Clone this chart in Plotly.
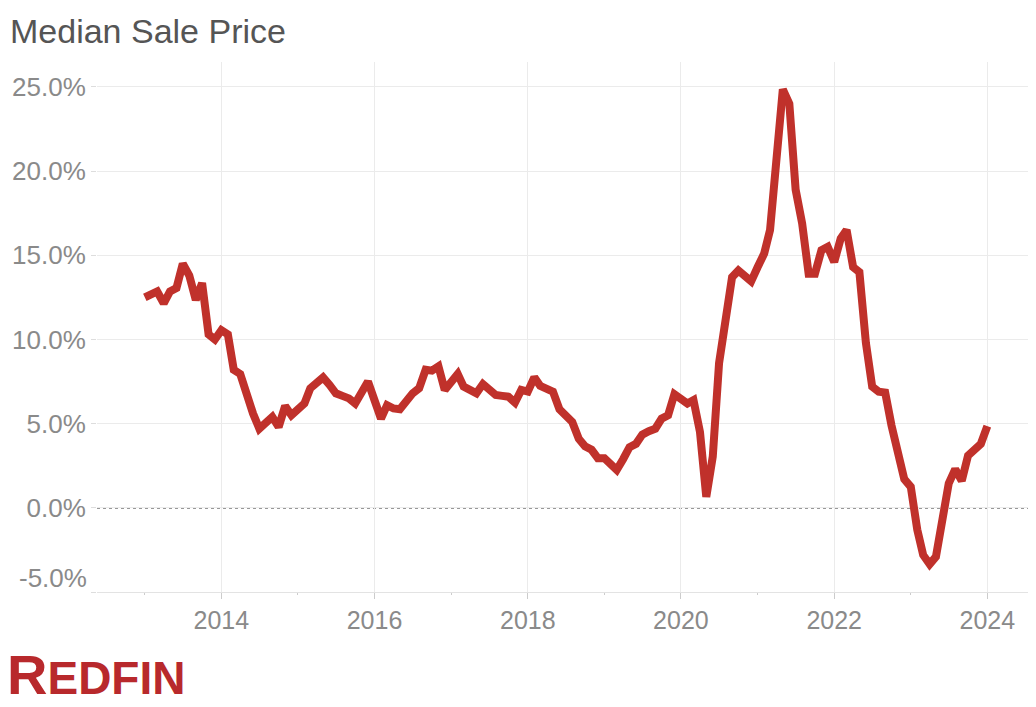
import pandas as pd
import plotly.graph_objects as go

# Year-over-year change in median sale price, monthly, Jan 2013 .. Jan 2024
months = pd.date_range("2013-01-01", "2024-01-01", freq="MS")
yoy_pct = [
    12.5, 12.75, 12.85, 12.15, 12.85, 13.05, 14.5, 13.8, 12.35, 13.35, 10.3, 10.0,   # 2013
    10.55, 10.3, 8.2, 7.95, 6.6, 5.6, 4.7, 5.0, 5.4, 4.8, 6.05, 5.5,                 # 2014
    5.8, 6.2, 7.1, 7.4, 7.75, 7.3, 6.8, 6.65, 6.5, 6.2, 6.8, 7.5,                    # 2015
    6.4, 5.3, 6.1, 5.9, 5.85, 6.4, 6.8, 7.1, 8.2, 8.15, 8.4, 7.0,                    # 2016
    7.4, 7.95, 7.2, 6.95, 6.8, 7.35, 7.0, 6.7, 6.65, 6.6, 6.25, 7.0,                 # 2017
    6.9, 7.75, 7.25, 7.1, 6.9, 5.85, 5.45, 5.1, 4.1, 3.65, 3.45, 2.95,               # 2018
    2.95, 2.55, 2.25, 2.9, 3.6, 3.8, 4.35, 4.55, 4.7, 5.3, 5.5, 6.75,                # 2019
    6.45, 6.2, 6.4, 4.5, 0.65, 3.05, 8.6, 11.3, 13.7, 14.1, 13.8, 13.45,             # 2020
    14.3, 15.1, 16.5, 21.0, 24.85, 24.0, 18.9, 16.9, 13.9, 13.9, 15.3, 15.5,         # 2021
    14.6, 16.0, 16.5, 14.3, 14.0, 9.8, 7.2, 6.9, 6.85, 4.9, 3.05, 1.7,               # 2022
    1.25, -1.3, -2.8, -3.35, -2.9, -0.4, 1.45, 2.3, 1.6, 3.1, 3.5, 3.8,              # 2023
    4.85,                                                                            # 2024
]

y_ticks = [-5, 0, 5, 10, 15, 20, 25]
y_labels = ["", "0.0%", "5.0%", "10.0%", "15.0%", "20.0%", "25.0%"]

FONT = "Liberation Sans, Arial, Helvetica, sans-serif"
RED = "#c0312b"
GRID = "#ebebeb"
LABEL = "#8a8a8a"

# the page body adds an 8px margin, so the figure is 8px smaller each way
W, H = 1028, 699

fig = go.Figure()
fig.add_trace(go.Scatter(
    x=months, y=yoy_pct, mode="lines",
    line=dict(color=RED, width=8),
    hovertemplate="%{x|%b %Y}: %{y:.1f}%<extra></extra>",
))

fig.update_layout(
    width=W, height=H,
    paper_bgcolor="white", plot_bgcolor="white",
    font=dict(family=FONT, color=LABEL),
    margin=dict(l=85, r=4, t=54, b=115),
    showlegend=False,
    title=dict(
        text="Median Sale Price", xref="container", yref="container",
        x=2 / W, y=1 - 23 / H, xanchor="left", yanchor="middle",
        font=dict(size=34, color="#555555", family=FONT),
    ),
    xaxis=dict(
        range=["2012-05-18", "2024-08-01"],
        tick0="2014-01-01", dtick="M24", tickformat="%Y",
        ticks="outside", ticklen=6, tickcolor="#cccccc",
        ticklabelstandoff=0,
        tickfont=dict(size=25, color=LABEL),
        showgrid=True, gridcolor=GRID, gridwidth=1,
        showline=True, linecolor="#e3e3e3", linewidth=1,
        zeroline=False,
        minor=dict(tick0="2013-01-01", dtick="M24", ticks="outside",
                   ticklen=2, tickcolor="#cccccc", showgrid=False),
    ),
    yaxis=dict(
        range=[-5, 26.48],
        tickvals=y_ticks, ticktext=y_labels,
        ticks="outside", ticklen=5, tickcolor="#dddddd",
        tickfont=dict(size=26, color=LABEL),
        showgrid=True, gridcolor=GRID, gridwidth=1,
        zeroline=False, showline=False,
    ),
    shapes=[dict(
        type="line", xref="paper", x0=0, x1=1, yref="y", y0=0, y1=0,
        line=dict(color="#333333", width=1.3, dash="dot"), layer="below",
    )],
    annotations=[
        # bottom tick label sits a little above its gridline
        dict(text="-5.0%", xref="paper", x=0, xanchor="right", xshift=-8,
             yref="y", y=-5, yanchor="middle", yshift=14, showarrow=False,
             font=dict(size=26, color=LABEL, family=FONT)),
        dict(text="<span style='font-size:56px'>R</span>EDFIN",
             xref="paper", x=-83 / 939, xanchor="left", xshift=-9,
             yref="paper", y=-(697 - 592) / 530, yanchor="bottom", yshift=-11,
             showarrow=False,
             font=dict(size=46, color="#b8292c", family=FONT, weight="bold")),
    ],
)

fig.write_html("out.html")
